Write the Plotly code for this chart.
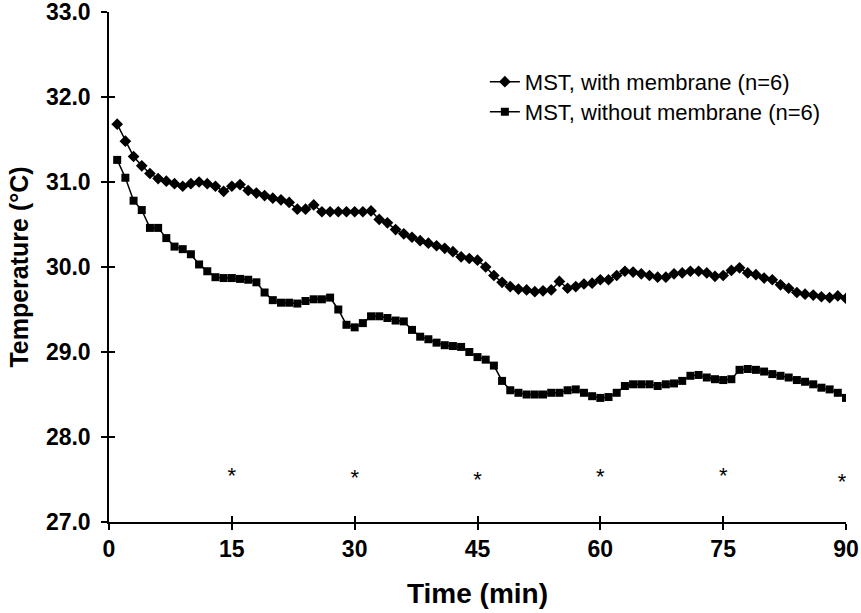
import plotly.graph_objects as go

time_min = list(range(1, 91))

with_membrane = [
    31.68, 31.48, 31.30, 31.19, 31.10, 31.04, 31.01, 30.98, 30.95, 30.98,
    31.00, 30.98, 30.95, 30.89, 30.95, 30.97, 30.90, 30.87, 30.84, 30.81,
    30.79, 30.76, 30.68, 30.68, 30.73, 30.65, 30.65, 30.65, 30.65, 30.65,
    30.65, 30.66, 30.56, 30.52, 30.44, 30.39, 30.35, 30.31, 30.28, 30.25,
    30.22, 30.18, 30.12, 30.10, 30.08, 30.00, 29.90, 29.82, 29.77, 29.74,
    29.73, 29.71, 29.72, 29.73, 29.83, 29.75, 29.77, 29.80, 29.81, 29.85,
    29.85, 29.90, 29.95, 29.94, 29.92, 29.90, 29.88, 29.88, 29.92, 29.93,
    29.95, 29.95, 29.93, 29.89, 29.90, 29.96, 29.99, 29.93, 29.91, 29.87,
    29.85, 29.79, 29.75, 29.70, 29.68, 29.67, 29.65, 29.64, 29.66, 29.63,
]

without_membrane = [
    31.26, 31.05, 30.78, 30.67, 30.46, 30.46, 30.34, 30.24, 30.21, 30.15,
    30.03, 29.95, 29.88, 29.87, 29.87, 29.86, 29.85, 29.82, 29.70, 29.61,
    29.58, 29.58, 29.57, 29.60, 29.62, 29.62, 29.64, 29.50, 29.32, 29.29,
    29.34, 29.42, 29.42, 29.40, 29.37, 29.36, 29.26, 29.18, 29.15, 29.11,
    29.08, 29.07, 29.06, 29.00, 28.94, 28.91, 28.84, 28.66, 28.55, 28.52,
    28.50, 28.50, 28.50, 28.52, 28.52, 28.55, 28.56, 28.52, 28.48, 28.46,
    28.47, 28.52, 28.60, 28.62, 28.62, 28.62, 28.60, 28.62, 28.63, 28.66,
    28.72, 28.73, 28.70, 28.68, 28.67, 28.68, 28.79, 28.80, 28.79, 28.77,
    28.74, 28.72, 28.70, 28.67, 28.65, 28.62, 28.58, 28.56, 28.52, 28.46,
]

star_time = [15, 30, 45, 60, 75, 89.5]
star_temp = [27.52, 27.50, 27.48, 27.51, 27.52, 27.45]

x_ticks = [0, 15, 30, 45, 60, 75, 90]
y_ticks = [27, 28, 29, 30, 31, 32, 33]

FONT = "Liberation Sans, Arial, sans-serif"

fig = go.Figure()
fig.add_trace(go.Scatter(
    x=time_min, y=with_membrane, mode="lines+markers",
    name="MST, with membrane (n=6)", legend="legend",
    line=dict(color="black", width=1.5),
    marker=dict(symbol="diamond", size=9, color="black"),
))
fig.add_trace(go.Scatter(
    x=time_min, y=without_membrane, mode="lines+markers",
    name="MST, without membrane (n=6)", legend="legend2",
    line=dict(color="black", width=1.5),
    marker=dict(symbol="square", size=8, color="black"),
))
fig.add_trace(go.Scatter(
    x=star_time, y=star_temp, mode="text", text=["*"] * len(star_time),
    textfont=dict(family=FONT, size=22, color="black"),
    showlegend=False, hoverinfo="skip", xaxis="x2", yaxis="y2",
))

axis_common = dict(showgrid=False, zeroline=False, showline=True,
                   linecolor="black", linewidth=1.5, tickcolor="black",
                   tickwidth=1.5, ticklen=6)

tick_font = dict(size=23, family="Liberation Sans", weight="bold")
legend_common = dict(xanchor="left", yanchor="middle", bgcolor="rgba(0,0,0,0)",
                     font=dict(size=22, family=FONT), itemwidth=30)

fig.update_layout(
    width=861, height=613,
    paper_bgcolor="white", plot_bgcolor="white",
    margin=dict(l=109, r=15, t=12, b=91),
    font=dict(family=FONT, color="black"),
    xaxis=dict(range=[0, 90], tickvals=x_ticks, ticks="outside",
               tickfont=tick_font, automargin=False, ticklabeloverflow="allow",
               title=dict(text="<b>Time (min)</b>", font=dict(size=28), standoff=22),
               **axis_common),
    yaxis=dict(range=[27, 33], tickvals=y_ticks, tickformat=".1f", ticks="outside",
               tickfont=tick_font, automargin=False, ticklabelstandoff=6,
               ticklabeloverflow="allow",
               title=dict(text="<b>Temperature (°C)</b>", font=dict(size=25), standoff=10),
               **axis_common),
    xaxis2=dict(range=[0, 90], tickvals=x_ticks, ticks="inside", overlaying="x",
                showticklabels=False, **axis_common),
    yaxis2=dict(range=[27, 33], tickvals=y_ticks, ticks="inside", overlaying="y",
                showticklabels=False, **axis_common),
    legend=dict(x=0.51, y=0.863, **legend_common),
    legend2=dict(x=0.51, y=0.804, **legend_common),
    showlegend=True,
)

fig.write_html("out.html", config={"displayModeBar": False},
               post_script="document.body.style.margin='0';")
